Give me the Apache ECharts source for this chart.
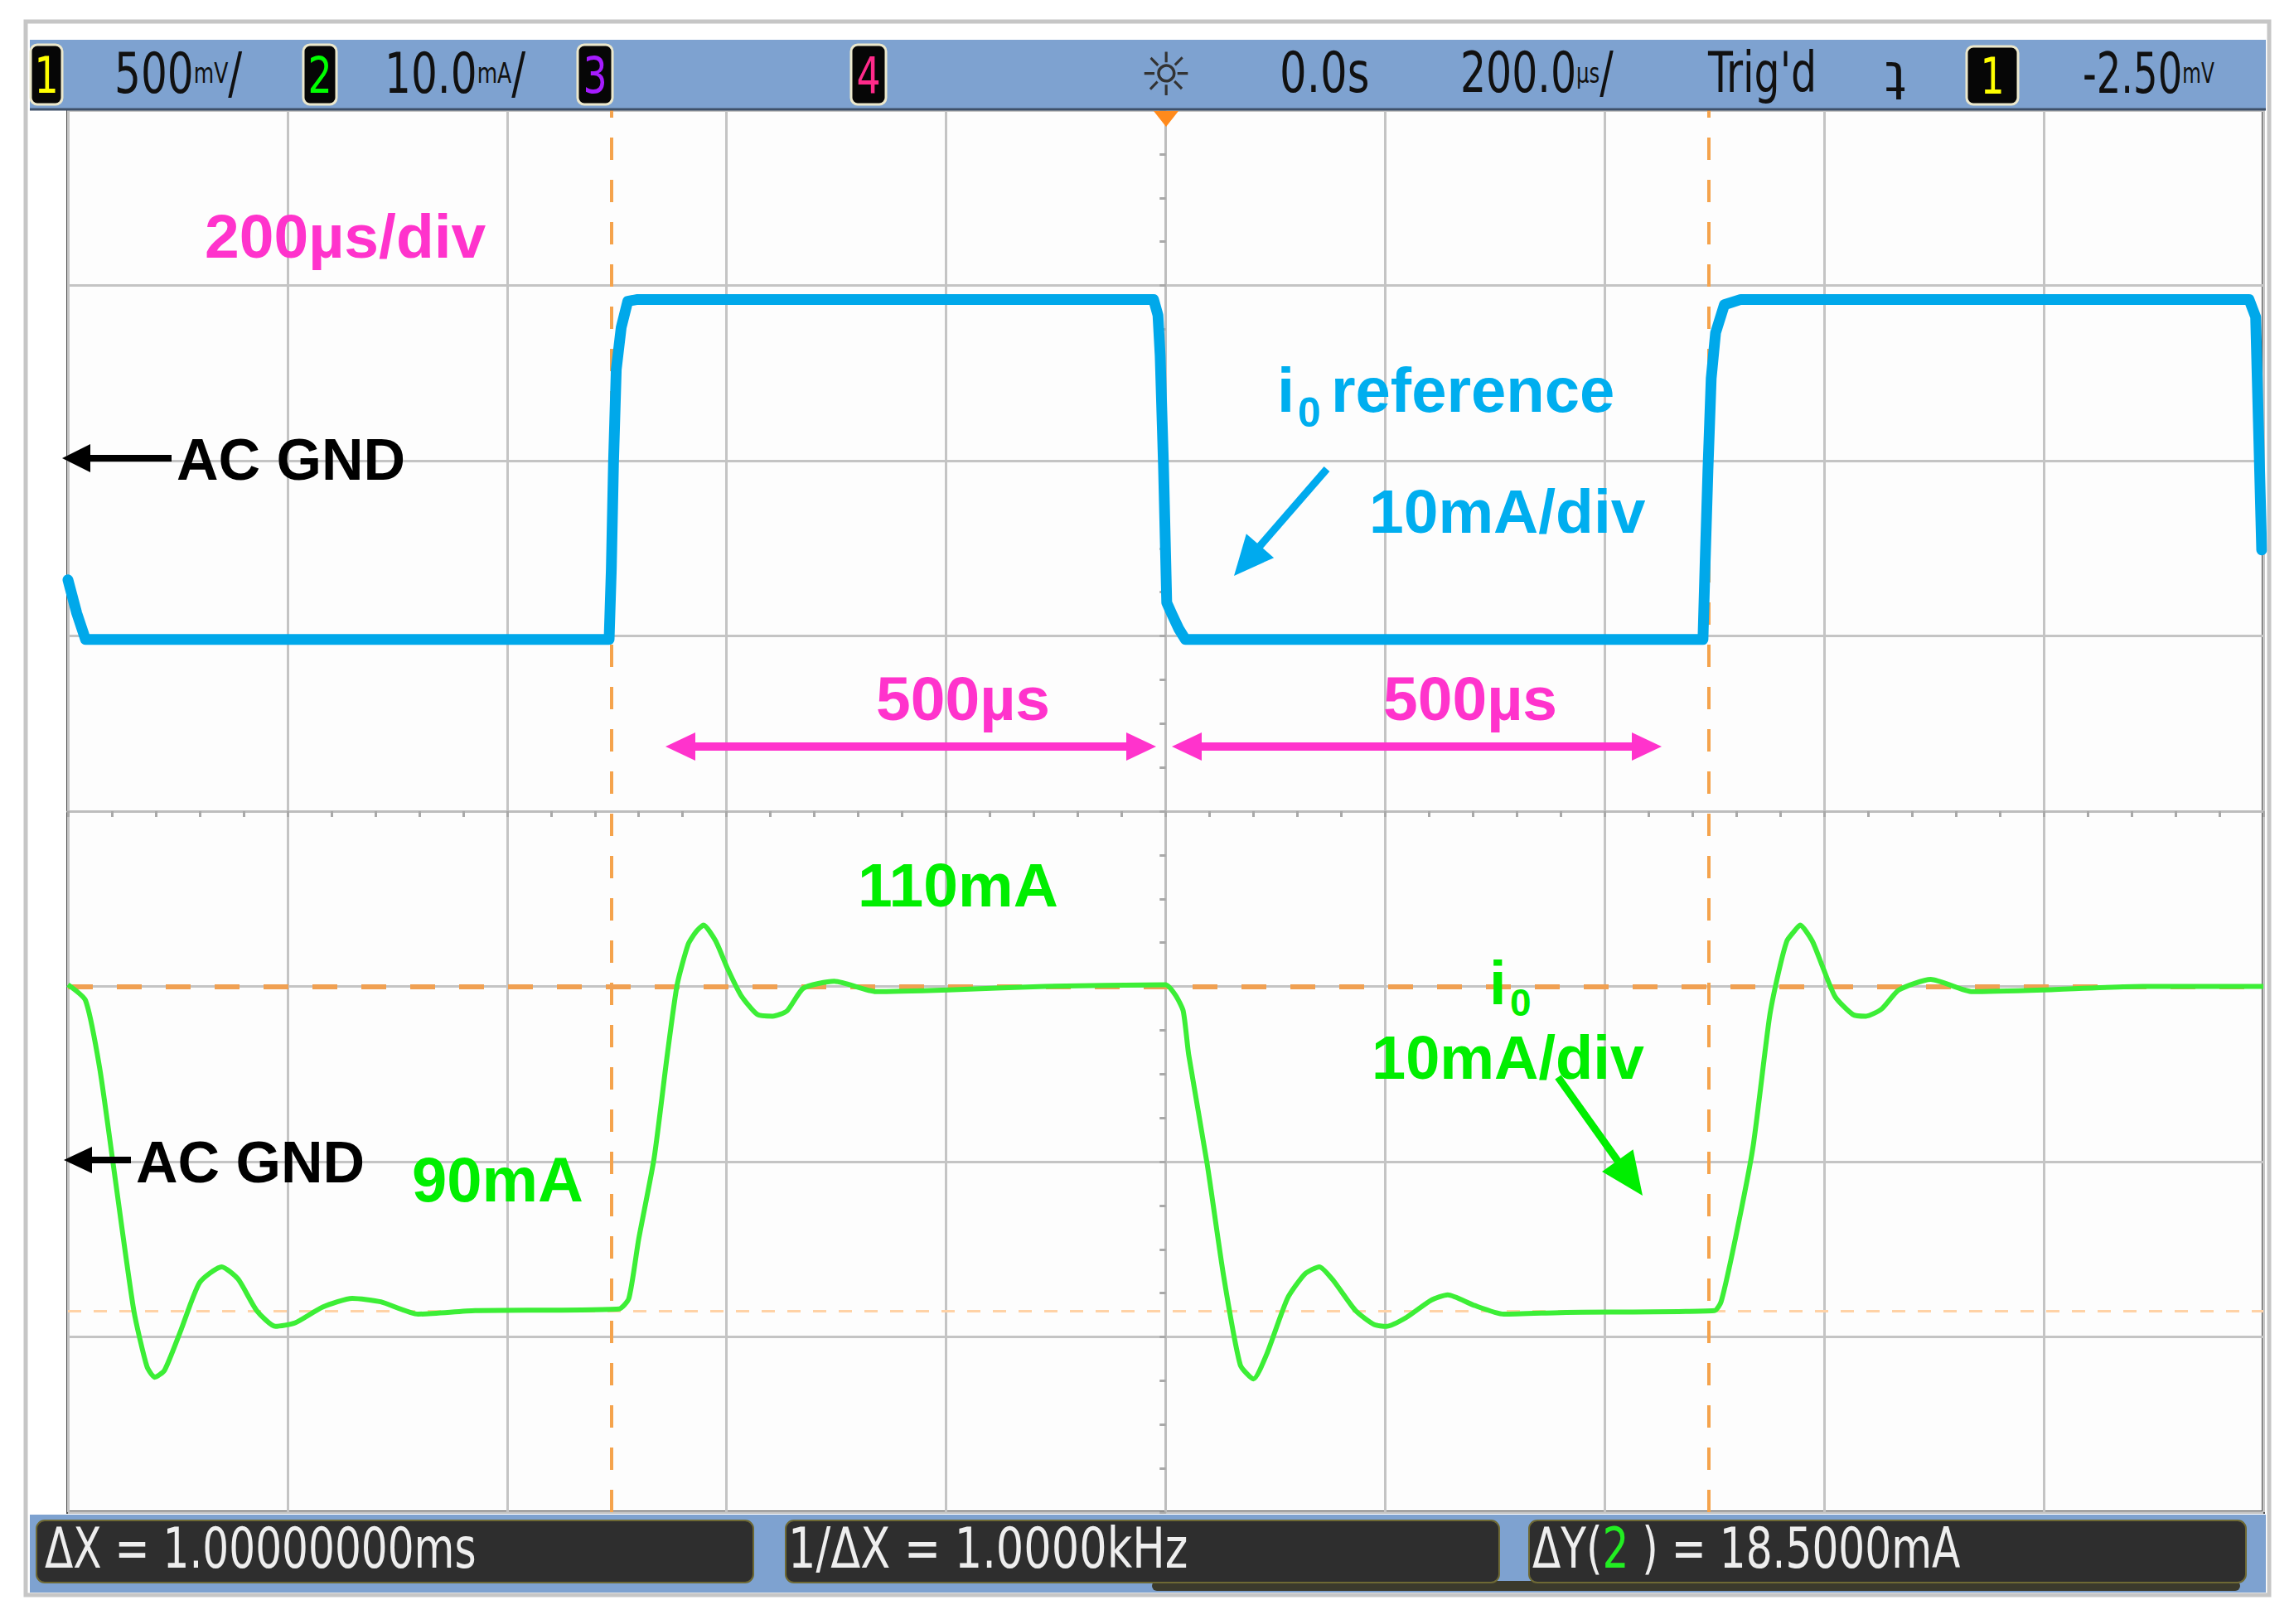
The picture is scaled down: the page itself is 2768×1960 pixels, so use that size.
<!DOCTYPE html>
<html>
<head>
<meta charset="utf-8">
<title>i0 reference / i0 step response</title>
<script src="https://cdn.jsdelivr.net/npm/echarts@6/dist/echarts.min.js"></script>
<style>
  html, body { margin: 0; padding: 0; background: #ffffff; }
  #scope { width: 2768px; height: 1960px; }
</style>
</head>
<body>
<div id="scope"></div>
<script>
/**
 * 示波器截图：i0 参考值与 i0 阶跃响应
 */

// time base 200 µs/div, 10 div, trigger in the middle
const timeRange = [-1000, 1000];
const timeStep = 200;
const divRange = [-4, 4];
// channel scales, 10 mA/div each
const refRange = [40, 120];
const outRange = [80, 160];

// i0 reference (blue), time in µs, current in mA
const refTime = [-1000, -992, -984, -507, -505, -503, -500.5, -496, -490, -481,
  -11, -7, -5, -2, 1, 6, 12, 18, 489.5, 491.5,
  494, 497, 501, 509, 524, 987, 993, 998.5];
const refCurrent = [93.2, 91.3, 89.8, 89.8, 93.8, 99.9, 105.2, 107.6, 109.1, 109.2,
  109.2, 108.3, 106.0, 99.8, 91.9, 91.2, 90.4, 89.8, 89.8, 94.2,
  99.4, 104.7, 107.3, 108.9, 109.2, 109.2, 108.2, 94.9];

// i0 measured (green)
const outTime = [-1000, -984, -971, -958, -940, -928, -921, -912, -897, -880,
  -860, -845, -828, -811, -793, -768, -741, -715, -681, -629, -498,
  -489, -480, -466, -454, -445, -435, -428, -421, -410, -399,
  -387, -372, -358, -345, -330, -302, -264, -198, -110, 0,
  9, 16, 21, 38, 53, 68, 80, 92, 111, 127,
  140, 153, 173, 190, 201, 219, 242, 257, 281, 308, 365, 500,
  506, 519, 535, 550, 558, 566, 572, 578, 589, 598,
  610, 626, 638, 652, 668, 697, 735, 800, 890, 1000];
const outCurrent = [110.1, 109.2, 105.3, 99.5, 91.5, 88.3, 87.7, 88.1, 90.4, 93.1,
  94.0, 93.3, 91.5, 90.6, 90.8, 91.7, 92.2, 92.0, 91.3, 91.5, 91.6,
  92.2, 95.6, 100.2, 106.1, 110.1, 112.4, 113.1, 113.5, 112.6, 111.0,
  109.5, 108.4, 108.3, 108.6, 109.9, 110.3, 109.7, 109.8, 110.0, 110.1,
  109.5, 108.6, 106.1, 99.8, 93.4, 88.4, 87.6, 89.0, 92.2, 93.6,
  94.0, 93.2, 91.5, 90.7, 90.6, 91.1, 92.1, 92.4, 91.8, 91.3, 91.4, 91.5,
  92.0, 95.6, 100.8, 108.2, 110.7, 112.6, 113.1, 113.5, 112.6, 111.2,
  109.4, 108.4, 108.3, 108.7, 109.8, 110.4, 109.7, 109.8, 110.0, 110.0];

// cursors
const cursorTimes = [-505, 495];
const cursorLevels = [110, 91.5];

// status line texts
const channelBadges = ['1', '2', '3', '4', '1'];
const topLabels = ['500', '10.0', '0.0s', '200.0', "Trig'd", '-2.50'];
const bottomLabels = ['ΔX = 1.00000000ms', '1/ΔX = 1.0000kHz', 'ΔY(', ' ) = 18.5000mA'];

const SCOPE_FONT = '"Liberation Sans Narrow", "DejaVu Sans Condensed", "Arial Narrow", sans-serif';
const NOTE_FONT = '"Liberation Sans", Arial, sans-serif';

function txt(text, x, y, font, fill, extra) {
  return {
    type: 'text', z: 60,
    style: Object.assign({
      text: text, x: x, y: y, font: font, fill: fill,
      textAlign: 'left', align: 'left', textVerticalAlign: 'middle', verticalAlign: 'middle'
    }, extra || {})
  };
}

// scope status text is squeezed sideways like the narrow instrument font
function scopeTxt(text, x, y, font, fill, sx, extra) {
  const el = txt(text, 0, 0, font, fill, extra);
  el.x = x;
  el.y = y;
  el.scaleX = sx;
  return el;
}

function rect(x, y, w, h, style, r, z) {
  return { type: 'rect', z: z || 50, shape: { x: x, y: y, width: w, height: h, r: r || 0 }, style: style };
}

function head(x2, y2, ux, uy, len, half, color) {
  const bx = x2 - ux * len, by = y2 - uy * len;
  return {
    type: 'polygon', z: 60,
    shape: { points: [[x2, y2], [bx - uy * half, by + ux * half], [bx + uy * half, by - ux * half]] },
    style: { fill: color }
  };
}

function arrow(x1, y1, x2, y2, color, width, len, half) {
  const d = Math.hypot(x2 - x1, y2 - y1);
  const ux = (x2 - x1) / d, uy = (y2 - y1) / d;
  return [
    { type: 'line', z: 60, shape: { x1: x1, y1: y1, x2: x2 - ux * (len - 2), y2: y2 - uy * (len - 2) },
      style: { stroke: color, lineWidth: width } },
    head(x2, y2, ux, uy, len, half, color)
  ];
}

function doubleArrow(x1, x2, y, color, width, len, half) {
  return [
    { type: 'line', z: 60, shape: { x1: x1 + len - 2, y1: y, x2: x2 - len + 2, y2: y },
      style: { stroke: color, lineWidth: width } },
    head(x1, y, -1, 0, len, half, color),
    head(x2, y, 1, 0, len, half, color)
  ];
}

function badge(x, y, w, h, label, color) {
  return [
    rect(x, y, w, h, { fill: '#060606', stroke: '#ece8cc', lineWidth: 3 }, 8, 55),
    scopeTxt(label, x + w / 2, y + h / 2 + 1, '60px ' + SCOPE_FONT, color, 0.85, { textAlign: 'center', align: 'center' })
  ];
}

const smallUnit = { fontSize: 34, fontFamily: SCOPE_FONT, fill: '#111111' };
const scopeText = '68px ' + SCOPE_FONT;
const boxText = '68px ' + SCOPE_FONT;

const frame = [
  rect(31, 26, 2707, 1899, { fill: 'none', stroke: '#c6c6c6', lineWidth: 5 }, 0, 40),
  rect(36, 48, 2698, 85, { fill: '#7ea2d0' }, 0, 50),
  { type: 'line', z: 51, shape: { x1: 36, y1: 132, x2: 2734, y2: 132 }, style: { stroke: '#3e5068', lineWidth: 3 } },
  rect(36, 1828, 2698, 94, { fill: '#7ea2d0' }, 0, 50),
  rect(1390, 1908, 1313, 12, { fill: '#3b3a2c' }, 6, 51),
  rect(44, 1835, 865, 75, { fill: '#2e2e2e', stroke: '#6e6934', lineWidth: 2 }, 10, 52),
  rect(948, 1835, 861, 75, { fill: '#2e2e2e', stroke: '#6e6934', lineWidth: 2 }, 10, 52),
  rect(1845, 1835, 865, 75, { fill: '#2e2e2e', stroke: '#6e6934', lineWidth: 2 }, 10, 52),
  // trigger position marker
  { type: 'polygon', z: 55, shape: { points: [[1392, 134], [1422, 134], [1407, 153]] }, style: { fill: '#ff8a1c' } }
];

const statusLine = [].concat(
  badge(37, 54, 38, 72, channelBadges[0], '#ffff00'),
  badge(366, 54, 40, 72, channelBadges[1], '#00ff00'),
  badge(697, 54, 42, 72, channelBadges[2], '#a61cff'),
  badge(1027, 54, 42, 72, channelBadges[3], '#ff2a8a'),
  badge(2373, 56, 62, 70, channelBadges[4], '#ffff00'),
  [
    scopeTxt(topLabels[0] + '{u|mV}/', 138, 88, scopeText, '#111111', 0.82, { rich: { u: smallUnit } }),
    scopeTxt(topLabels[1] + '{u|mA}/', 464, 88, scopeText, '#111111', 0.82, { rich: { u: smallUnit } }),
    txt('☼', 1407, 90, '72px "DejaVu Sans", sans-serif', '#333333', { textAlign: 'center', align: 'center' }),
    scopeTxt(topLabels[2], 1544, 88, scopeText, '#111111', 0.84),
    scopeTxt(topLabels[3] + '{u|µs}/', 1762, 88, scopeText, '#111111', 0.8, { rich: { u: smallUnit } }),
    scopeTxt(topLabels[4], 2061, 88, scopeText, '#111111', 0.8),
    txt('ʇ', 2287, 88, '64px "DejaVu Sans", sans-serif', '#111111', { textAlign: 'center', align: 'center' }),
    scopeTxt(topLabels[5] + '{u|mV}', 2513, 88, scopeText, '#111111', 0.76, { rich: { u: smallUnit } }),
    scopeTxt(bottomLabels[0], 54, 1868, boxText, '#eeeeee', 0.82),
    scopeTxt(bottomLabels[1], 951, 1868, boxText, '#eeeeee', 0.86),
    scopeTxt(bottomLabels[2] + '{g|2}' + bottomLabels[3], 1849, 1868, boxText, '#eeeeee', 0.82,
      { rich: { g: { fontSize: 68, fontFamily: SCOPE_FONT, fill: '#22ee22' } } })
  ]
);

const notes = [].concat(
  [
    txt('200µs/div', 247, 285, 'bold 75px ' + NOTE_FONT, '#ff33cc'),
    txt('AC GND', 213, 555, 'bold 70px ' + NOTE_FONT, '#000000'),
    txt('AC GND', 164, 1403, 'bold 70px ' + NOTE_FONT, '#000000'),
    txt('i', 1541, 470, 'bold 76px ' + NOTE_FONT, '#00aeef'),
    txt('0', 1566, 498, 'bold 50px ' + NOTE_FONT, '#00aeef'),
    txt('reference', 1606, 470, 'bold 76px ' + NOTE_FONT, '#00aeef'),
    txt('10mA/div', 1652, 617, 'bold 75px ' + NOTE_FONT, '#00aeef'),
    txt('500µs', 1057, 843, 'bold 75px ' + NOTE_FONT, '#ff33cc'),
    txt('500µs', 1669, 843, 'bold 75px ' + NOTE_FONT, '#ff33cc'),
    txt('110mA', 1035, 1068, 'bold 75px ' + NOTE_FONT, '#00ee00'),
    txt('i', 1797, 1186, 'bold 74px ' + NOTE_FONT, '#00ee00'),
    txt('0', 1822, 1210, 'bold 46px ' + NOTE_FONT, '#00ee00'),
    txt('10mA/div', 1655, 1276, 'bold 74px ' + NOTE_FONT, '#00ee00'),
    txt('90mA', 497, 1423, 'bold 76px ' + NOTE_FONT, '#00ee00')
  ],
  arrow(207, 553, 75, 553, '#000000', 8, 34, 17),
  arrow(158, 1400, 77, 1400, '#000000', 8, 34, 16),
  arrow(1601, 566, 1489, 695, '#00aaee', 9, 48, 22),
  arrow(1880, 1300, 1982, 1443, '#00ee00', 9, 52, 23),
  doubleArrow(803, 1395, 901, '#ff33cc', 10, 36, 17),
  doubleArrow(1414, 2005, 901, '#ff33cc', 10, 36, 17)
);

const gridLine = { color: '#c4c4c4', width: 3 };
const tickLine = { color: '#a9a9a9', width: 3 };

function timeAxis(inside, split) {
  return {
    type: 'value', min: timeRange[0], max: timeRange[1], interval: timeStep,
    axisLabel: { show: false },
    splitLine: { show: split, lineStyle: gridLine },
    axisLine: { show: true, onZero: true, onZeroAxisIndex: 0, lineStyle: { color: '#bdbdbd', width: 3 } },
    axisTick: { show: true, inside: inside, length: 7, lineStyle: tickLine },
    minorTick: { show: true, splitNumber: 5, length: 7, lineStyle: tickLine }
  };
}

function divAxis(inside, split) {
  return {
    type: 'value', min: divRange[0], max: divRange[1], interval: 1,
    axisLabel: { show: false },
    splitLine: { show: split, lineStyle: gridLine },
    axisLine: { show: true, onZero: true, onZeroAxisIndex: 0, lineStyle: { color: '#bdbdbd', width: 3 } },
    axisTick: { show: true, inside: inside, length: 7, lineStyle: tickLine },
    minorTick: { show: true, splitNumber: 4, length: 7, lineStyle: tickLine }
  };
}

const dashV = { color: '#f5a34c', width: 4, type: [27, 24] };

const option = {
  animation: false,
  backgroundColor: '#ffffff',
  grid: {
    left: 82, top: 133, width: 2649, height: 1692,
    show: true, backgroundColor: '#fdfdfd', borderColor: '#505050', borderWidth: 4
  },
  xAxis: [timeAxis(false, true), timeAxis(true, false)],
  yAxis: [
    divAxis(false, true),
    divAxis(true, false),
    { type: 'value', min: refRange[0], max: refRange[1], interval: 10, show: false },
    { type: 'value', min: outRange[0], max: outRange[1], interval: 10, show: false }
  ],
  series: [
    {
      type: 'line', name: 'i0 reference', xAxisIndex: 0, yAxisIndex: 2, z: 4,
      data: refTime.map((t, i) => [t, refCurrent[i]]),
      symbol: 'none', showSymbol: false,
      lineStyle: { color: '#00a8ea', width: 13, cap: 'round', join: 'round' }
    },
    {
      type: 'line', name: 'i0', xAxisIndex: 0, yAxisIndex: 3, z: 5,
      data: outTime.map((t, i) => [t, outCurrent[i]]),
      symbol: 'none', showSymbol: false, smooth: 0.2,
      lineStyle: { color: '#3cee36', width: 6, join: 'round' },
      markLine: {
        silent: true, z: 3, symbol: ['none', 'none'], label: { show: false },
        data: [
          { xAxis: cursorTimes[0], lineStyle: dashV },
          { xAxis: cursorTimes[1], lineStyle: dashV },
          { yAxis: cursorLevels[0], lineStyle: { color: '#f0a052', width: 6, type: [30, 29] } },
          { yAxis: cursorLevels[1], lineStyle: { color: '#ffd2a6', width: 3, type: [16, 15] } }
        ]
      }
    }
  ],
  graphic: { elements: [].concat(frame, statusLine, notes) }
};

const myChart = echarts.init(document.getElementById('scope'), null, { renderer: 'svg' });
myChart.setOption(option);
</script>
</body>
</html>
